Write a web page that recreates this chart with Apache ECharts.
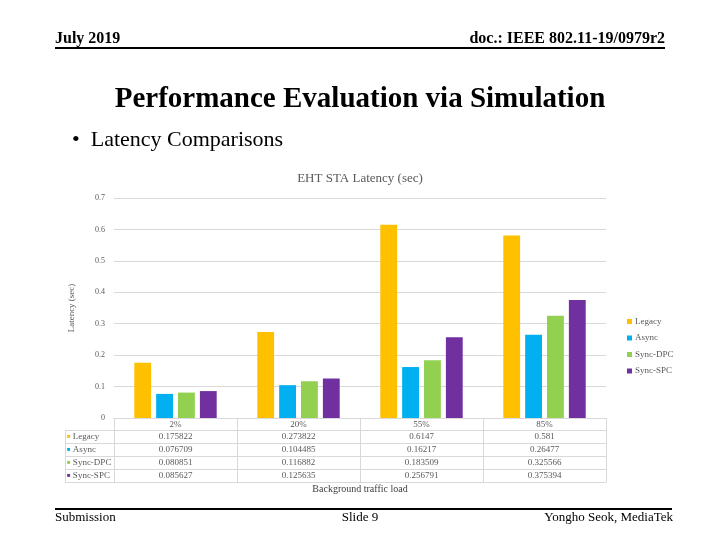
<!DOCTYPE html>
<html>
<head>
<meta charset="utf-8">
<script src="https://cdn.jsdelivr.net/npm/echarts@6/dist/echarts.min.js"></script>
<style>
html,body{margin:0;padding:0;background:#fff;}
#chart{width:720px;height:540px;}
</style>
</head>
<body>
<div id="chart"></div>
<script>
const categories = ['2%', '20%', '55%', '85%'];
const seriesNames = ['Legacy', 'Async', 'Sync-DPC', 'Sync-SPC'];
const legacy = [0.175822, 0.273822, 0.6147, 0.581];
const async_ = [0.076709, 0.104485, 0.16217, 0.26477];
const syncDPC = [0.080851, 0.116882, 0.183509, 0.325566];
const syncSPC = [0.085627, 0.125635, 0.256791, 0.375394];
const yTicks = [0, 0.1, 0.2, 0.3, 0.4, 0.5, 0.6, 0.7];

const colors = ['#FFC000', '#00B0F0', '#92D050', '#7030A0'];
const values = [legacy, async_, syncDPC, syncSPC];
const FONT = '"Liberation Serif", "DejaVu Serif", serif';
const GRAY = '#595959';
const LINE = '#d9d9d9';

const chart = echarts.init(document.getElementById('chart'), null, {renderer: 'canvas'});

const xAxes = [{
  type: 'category', data: categories, gridIndex: 0, position: 'bottom',
  axisLine: {show: true, lineStyle: {color: LINE, width: 1}},
  axisTick: {show: true, length: 64, lineStyle: {color: LINE}},
  axisLabel: {margin: 2, fontSize: 9, color: GRAY, fontFamily: FONT}
}];
values.forEach((vals, k) => {
  xAxes.push({
    type: 'category', data: categories, gridIndex: 0, position: 'bottom',
    offset: [12, 25, 38, 51][k],
    axisLine: {show: true, lineStyle: {color: LINE, width: 1}},
    axisTick: {show: false},
    axisLabel: {margin: 2, fontSize: 9, color: GRAY, fontFamily: FONT,
      formatter: (v, i) => String(vals[i])},
    name: '{s|■} ' + seriesNames[k],
    nameLocation: 'start', nameGap: 47,
    nameTextStyle: {align: 'left', verticalAlign: 'top', padding: [2, 0, 0, 0],
      fontSize: 9, color: GRAY, fontFamily: FONT,
      rich: {s: {color: colors[k], fontSize: 6}}}
  });
});
xAxes.push({
  type: 'category', data: categories, gridIndex: 0, position: 'bottom', offset: 64,
  axisLine: {show: true, lineStyle: {color: LINE, width: 1}},
  axisTick: {show: false}, axisLabel: {show: false},
  name: 'Background traffic load', nameLocation: 'middle', nameGap: 2,
  nameTextStyle: {fontSize: 10, color: '#404040', fontFamily: FONT, verticalAlign: 'top'}
});

const option = {
  backgroundColor: '#fff',
  animation: false,
  title: {
    text: 'EHT STA Latency (sec)', left: 'center', top: 167,
    textStyle: {fontSize: 13, fontWeight: 'normal', color: GRAY, fontFamily: FONT}
  },
  legend: {
    data: seriesNames, orient: 'vertical', left: 622, top: 312,
    icon: 'rect', itemWidth: 5, itemHeight: 5, itemGap: 7.5,
    textStyle: {fontSize: 9, color: GRAY, fontFamily: FONT, padding: [0, 0, 0, -2]}
  },
  grid: {left: 114, right: 114, top: 198, bottom: 122, containLabel: false},
  xAxis: xAxes,
  yAxis: {
    type: 'value', min: 0, max: 0.7, interval: 0.1,
    name: 'Latency (sec)', nameLocation: 'middle', nameGap: 38, nameRotate: 90,
    nameTextStyle: {fontSize: 9, color: GRAY, fontFamily: FONT},
    axisLine: {show: false}, axisTick: {show: false},
    axisLabel: {margin: 9, fontSize: 8, color: GRAY, fontFamily: FONT,
      formatter: v => { const t = yTicks.find(x => Math.abs(x - v) < 1e-9); return t === 0 ? '0' : String(t); }},
    splitLine: {show: true, lineStyle: {color: LINE, width: 1}}
  },
  series: values.map((vals, k) => ({
    name: seriesNames[k], type: 'bar', data: vals, xAxisIndex: 0,
    barGap: '30%', barCategoryGap: '33%',
    itemStyle: {color: colors[k]}
  })),
  graphic: [
    {type: 'text', left: 55, top: 31, style: {text: 'July 2019', font: 'bold 16px ' + FONT, fill: '#000'}},
    {type: 'text', right: 55, top: 31, style: {text: 'doc.: IEEE 802.11-19/0979r2', font: 'bold 16px ' + FONT, fill: '#000'}},
    {type: 'line', shape: {x1: 55, y1: 48, x2: 665, y2: 48}, style: {stroke: '#000', lineWidth: 2}},
    {type: 'text', left: 'center', top: 85, style: {text: 'Performance Evaluation via Simulation', font: 'bold 29px ' + FONT, fill: '#000'}},
    {type: 'text', left: 72, top: 129, style: {text: '•  Latency Comparisons', font: '22px ' + FONT, fill: '#000'}},
    {type: 'line', shape: {x1: 55, y1: 509, x2: 672, y2: 509}, style: {stroke: '#000', lineWidth: 2}},
    {type: 'text', left: 55, top: 511, style: {text: 'Submission', font: '13px ' + FONT, fill: '#000'}},
    {type: 'text', left: 'center', top: 511, style: {text: 'Slide 9', font: '13px ' + FONT, fill: '#000'}},
    {type: 'text', right: 47, top: 511, style: {text: 'Yongho Seok, MediaTek', font: '13px ' + FONT, fill: '#000'}},
    {type: 'line', shape: {x1: 65.5, y1: 430, x2: 65.5, y2: 482}, style: {stroke: LINE, lineWidth: 1}},
    {type: 'line', shape: {x1: 65, y1: 430.5, x2: 114, y2: 430.5}, style: {stroke: LINE, lineWidth: 1}},
    {type: 'line', shape: {x1: 65, y1: 443.5, x2: 114, y2: 443.5}, style: {stroke: LINE, lineWidth: 1}},
    {type: 'line', shape: {x1: 65, y1: 456.5, x2: 114, y2: 456.5}, style: {stroke: LINE, lineWidth: 1}},
    {type: 'line', shape: {x1: 65, y1: 469.5, x2: 114, y2: 469.5}, style: {stroke: LINE, lineWidth: 1}},
    {type: 'line', shape: {x1: 65, y1: 482.5, x2: 114, y2: 482.5}, style: {stroke: LINE, lineWidth: 1}}
  ]
};
chart.setOption(option);
</script>
</body>
</html>
